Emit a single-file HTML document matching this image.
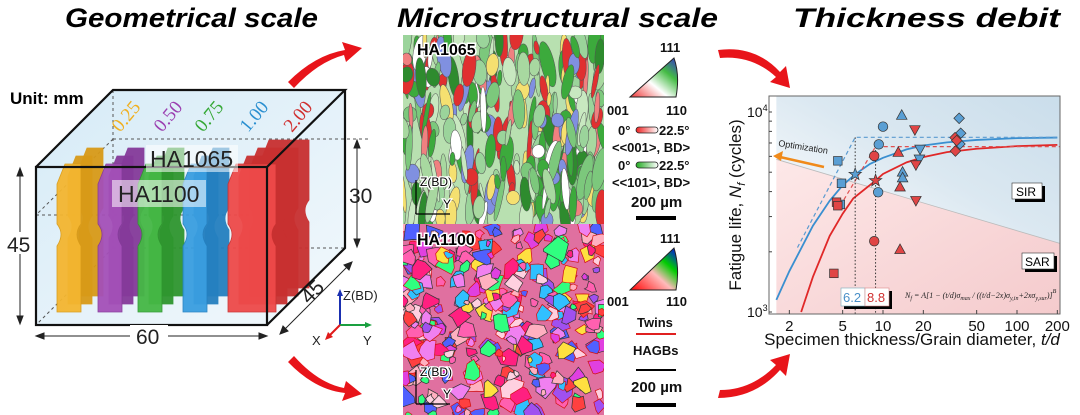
<!DOCTYPE html>
<html><head><meta charset="utf-8"><style>
body{margin:0;background:#fff;}
svg{display:block;font-family:"Liberation Sans",Arial,sans-serif;}
</style></head><body>
<svg id="fig" width="1080" height="415" viewBox="0 0 1080 415">
<defs>
<linearGradient id="boxg" x1="0" y1="0" x2="1" y2="1"><stop offset="0" stop-color="#d6ebf7"/><stop offset="1" stop-color="#f2f8fc"/></linearGradient>
<linearGradient id="blueBg" x1="0" y1="1" x2="1" y2="0"><stop offset="0" stop-color="#ffffff"/><stop offset="0.5" stop-color="#dbe8f1"/><stop offset="1" stop-color="#c8dcea"/></linearGradient>
<linearGradient id="pinkBg" x1="0" y1="0" x2="1" y2="1"><stop offset="0" stop-color="#fde8e8"/><stop offset="1" stop-color="#f4c9cb"/></linearGradient>
<linearGradient id="ipf1" x1="0" y1="1" x2="1" y2="0"><stop offset="0" stop-color="#e33"/><stop offset="0.4" stop-color="#fff"/><stop offset="0.7" stop-color="#4b4"/><stop offset="1" stop-color="#33c"/></linearGradient>
<linearGradient id="ipf2" x1="0" y1="1" x2="1" y2="0"><stop offset="0" stop-color="#f00"/><stop offset="0.45" stop-color="#fbb"/><stop offset="0.7" stop-color="#0c0"/><stop offset="1" stop-color="#00f"/></linearGradient>
<linearGradient id="redbar"><stop offset="0" stop-color="#e22"/><stop offset="1" stop-color="#fff"/></linearGradient>
<linearGradient id="grnbar"><stop offset="0" stop-color="#2a2"/><stop offset="1" stop-color="#fff"/></linearGradient>
<clipPath id="clipTop"><rect x="403" y="35" width="201" height="189"/></clipPath>
<clipPath id="clipBot"><rect x="403" y="224" width="201" height="191"/></clipPath>
<clipPath id="plotClip"><rect x="769" y="96" width="291" height="218"/></clipPath>
</defs>

<!-- Titles -->
<g font-weight="bold" font-style="italic" font-size="27" fill="#000">
<text x="65" y="27" textLength="253" lengthAdjust="spacingAndGlyphs">Geometrical scale</text>
<text x="397" y="27" textLength="321" lengthAdjust="spacingAndGlyphs">Microstructural scale</text>
<text x="793" y="27" textLength="267" lengthAdjust="spacingAndGlyphs">Thickness debit</text>
</g>

<!-- Red curved arrows -->
<g fill="#e8141a">
<path d="M288,82 Q315,55 345,50 L342,42 L362,48 L346,62 L344,55 Q318,62 294,88 Z"/>
<path d="M288,362 Q315,390 345,393 L342,401 L362,394 L346,381 L344,388 Q318,383 294,356 Z"/>
<path d="M718,50 Q755,45 780,72 L786,66 L790,88 L770,82 L776,77 Q752,55 720,58 Z"/>
<path d="M718,398 Q755,398 780,370 L786,376 L790,354 L770,360 L776,365 Q752,390 720,390 Z"/>
</g>

<!-- Left panel: box -->
<g>
<polygon points="36,167 113,90 345,90 345,248 267,325 36,325" fill="url(#boxg)"/>
<g stroke="#555" stroke-dasharray="3,3" fill="none" stroke-width="1">
<line x1="113" y1="90" x2="113" y2="248"/><line x1="113" y1="248" x2="345" y2="248"/><line x1="113" y1="248" x2="36" y2="325"/>
<line x1="113" y1="139" x2="370" y2="139"/><line x1="36" y1="215" x2="267" y2="215"/><line x1="113" y1="139" x2="36" y2="215"/>
</g>
<g id="specimens"></g>
<g fill="none" stroke="#111" stroke-width="2.2">
<rect x="36" y="167" width="231" height="158"/>
<polyline points="36,167 113,90 345,90 267,167"/>
<polyline points="345,90 345,248 267,325"/>
</g>
<rect x="146" y="145" width="92" height="27" fill="#fff" opacity="0.55"/>
<rect x="112" y="180" width="94" height="27" fill="#fff" opacity="0.55"/>
<text x="150" y="167" font-size="23" fill="#222">HA1065</text>
<text x="118" y="202" font-size="23" fill="#222">HA1100</text>
<text x="10" y="104" font-size="17" font-weight="bold">Unit: mm</text>
<g font-family="Liberation Serif,serif" font-size="19">
<text transform="translate(120,133) rotate(-50)" fill="#f0b020">0.25</text>
<text transform="translate(162,133) rotate(-50)" fill="#9b3fb0">0.50</text>
<text transform="translate(203,133) rotate(-50)" fill="#36a836">0.75</text>
<text transform="translate(248,133) rotate(-50)" fill="#2a8fd0">1.00</text>
<text transform="translate(292,133) rotate(-50)" fill="#d03030">2.00</text>
</g>
<g stroke="#222" stroke-width="1" fill="#222">
<line x1="20" y1="170" x2="20" y2="322"/><path d="M20,168 l-3,8 h6z M20,324 l-3,-8 h6z"/>
<line x1="357" y1="142" x2="357" y2="245"/><path d="M357,140 l-3,8 h6z M357,247 l-3,-8 h6z"/>
<line x1="38" y1="336" x2="265" y2="336"/><path d="M36,336 l8,-3 v6z M267,336 l-8,-3 v6z"/>
<line x1="282" y1="332" x2="350" y2="264"/><path d="M280,334 l3,-8 l5,5z M352,262 l-3,8 l-5,-5z"/>
</g>
<rect x="130" y="325" width="38" height="20" fill="#fff"/>
<rect x="8" y="232" width="26" height="22" fill="#fff"/>
<g font-size="21" fill="#222">
<text x="7" y="252">45</text><text x="349" y="203">30</text><text x="136" y="344">60</text>
<text transform="translate(309,305) rotate(-45)">45</text>
</g>
<g>
<line x1="340" y1="325" x2="340" y2="292" stroke="#1a2fb0" stroke-width="2"/><path d="M340,289 l-3,7 h6z" fill="#1a2fb0"/>
<line x1="340" y1="325" x2="368" y2="325" stroke="#1aa040" stroke-width="2"/><path d="M372,325 l-7,-3 v6z" fill="#1aa040"/>
<line x1="340" y1="325" x2="328" y2="337" stroke="#e01a1a" stroke-width="2"/><path d="M325,340 l3,-8 l5,5z" fill="#e01a1a"/>
<g font-size="13" fill="#222"><text x="343" y="300">Z(BD)</text><text x="312" y="345">X</text><text x="363" y="345">Y</text></g>
</g>
</g>

<!-- Middle: micrographs -->
<g clip-path="url(#clipTop)">
<rect x="403" y="35" width="201" height="189" fill="#b8e0b0"/>
<g id="grainsTop"></g>
</g>
<g clip-path="url(#clipBot)">
<rect x="403" y="224" width="201" height="191" fill="#e070a0"/>
<g id="grainsBot"></g>
</g>
<g font-size="16" font-weight="bold" fill="#000" stroke="#fff" stroke-width="3" paint-order="stroke">
<text x="417" y="55">HA1065</text>
<text x="417" y="245">HA1100</text>
</g>
<g stroke="#000" stroke-width="1.2"><line x1="416" y1="214" x2="416" y2="180"/><line x1="416" y1="214" x2="450" y2="214"/>
<line x1="416" y1="404" x2="416" y2="370"/><line x1="416" y1="404" x2="450" y2="404"/></g>
<g font-size="12" fill="#000" stroke="#fff" stroke-width="2.5" paint-order="stroke">
<text x="420" y="186">Z(BD)</text><text x="443" y="208">Y</text>
<text x="420" y="376">Z(BD)</text><text x="443" y="398">Y</text>
</g>

<!-- Middle legends -->
<g font-size="13" font-weight="bold" fill="#111">
<path d="M630,97 L676,97 Q680,75 674,58 Z" fill="url(#ipf1)" stroke="#222"/>
<text x="660" y="52">111</text><text x="607" y="115">001</text><text x="666" y="115">110</text>
<text x="618" y="135">0°</text><rect x="636" y="127" width="22" height="6" rx="3" fill="url(#redbar)" stroke="#222" stroke-width="0.8"/><text x="659" y="135">22.5°</text>
<text x="612" y="152">&lt;&lt;001&gt;, BD&gt;</text>
<text x="618" y="170">0°</text><rect x="636" y="162" width="22" height="6" rx="3" fill="url(#grnbar)" stroke="#222" stroke-width="0.8"/><text x="659" y="170">22.5°</text>
<text x="612" y="187">&lt;&lt;101&gt;, BD&gt;</text>
<text x="631" y="207" font-size="15">200 µm</text><rect x="636" y="216" width="40" height="4" fill="#000"/>
<path d="M630,290 L676,290 Q680,268 674,248 Z" fill="url(#ipf2)" stroke="#222"/>
<text x="660" y="243">111</text><text x="607" y="306">001</text><text x="666" y="306">110</text>
<text x="637" y="327">Twins</text><rect x="636" y="333" width="40" height="2" fill="#e02020"/>
<text x="633" y="355">HAGBs</text><rect x="636" y="369" width="40" height="2" fill="#000"/>
<text x="631" y="392" font-size="15">200 µm</text><rect x="636" y="403" width="40" height="4" fill="#000"/>
</g>

<!-- Right chart -->
<g id="chart">
<g clip-path="url(#plotClip)" id="bg"></g>
<g clip-path="url(#plotClip)" id="lines"></g>
<g id="marks"></g>
<rect x="769" y="96" width="291" height="218" fill="none" stroke="#666" stroke-width="1"/>
<g id="ticks"></g>
<text transform="translate(741,205) rotate(-90)" font-size="17" text-anchor="middle" fill="#111">Fatigue life, <tspan font-style="italic">N</tspan><tspan font-style="italic" font-size="11" dy="4">f</tspan><tspan dy="-4"> (cycles)</tspan></text>
<text x="912" y="345" font-size="17" text-anchor="middle" fill="#111">Specimen thickness/Grain diameter, <tspan font-style="italic">t/d</tspan></text>
<g>
<line x1="824" y1="167" x2="780" y2="157" stroke="#f08a1a" stroke-width="2.5"/><path d="M773,156 l10,-5 l-2,10z" fill="#f08a1a"/>
<text transform="translate(778,146) rotate(9)" font-size="9" fill="#222">Optimization</text>
</g>
<g font-size="12">
<rect x="1015" y="186" width="30" height="16" fill="#000"/><rect x="1012" y="183" width="30" height="16" fill="#fff" stroke="#333" stroke-width="0.6"/><text x="1016" y="196">SIR</text>
<rect x="1025" y="256" width="32" height="16" fill="#000"/><rect x="1022" y="253" width="32" height="16" fill="#fff" stroke="#333" stroke-width="0.6"/><text x="1025" y="266">SAR</text>
</g>
<g font-size="13">
<rect x="844" y="291" width="24" height="18" fill="#000"/><rect x="841" y="288" width="24" height="18" fill="#fff" stroke="#7ab" stroke-width="0.6"/><text x="843" y="302" fill="#4a90c8">6.2</text>
<rect x="868" y="291" width="24" height="18" fill="#000"/><rect x="865" y="288" width="24" height="18" fill="#fff" stroke="#d88" stroke-width="0.6"/><text x="867" y="302" fill="#d03030">8.8</text>
</g>
<text x="905" y="298" font-size="8" font-family="Liberation Serif,serif" font-style="italic" fill="#222">N<tspan font-size="6" dy="2">f</tspan><tspan dy="-2"> = A[1 − (t/d)σ</tspan><tspan font-size="6" dy="2">max</tspan><tspan dy="-2"> / ((t/d−2x)σ</tspan><tspan font-size="6" dy="2">y,in</tspan><tspan dy="-2">+2xσ</tspan><tspan font-size="6" dy="2">y,sur</tspan><tspan dy="-2">)]</tspan><tspan font-size="6" dy="-5">B</tspan></text>
</g>
</svg>
<script>
// ---- Chart data ----
const xTicks = [2, 5, 10, 20, 50, 100, 200];
const blueSqT = [4.6, 4.9, 4.8];        const blueSqN = [5700, 4400, 3450];
const redSqT = [4.5, 4.3, 4.6];         const redSqN = [3540, 1560, 3400];
const blueCirT = [10, 9.3, 9.2];        const blueCirN = [8450, 6890, 3970];
const redCirT = [8.6, 8.6];             const redCirN = [6030, 2260];
const blueTriT = [13.8, 14, 14];        const blueTriN = [9660, 5020, 4700];
const redTriT = [13, 13.4, 13.4];       const redTriN = [6300, 4230, 2060];
const blueTdT = [18.9, 18.7];           const blueTdN = [6500, 5800];
const redTdT = [17.3, 17.6, 17.6];      const redTdN = [8130, 5430, 3600];
const blueDiaT = [37, 38, 37.5];        const blueDiaN = [9300, 7830, 6920];
const redDiaT = [34.5, 35.5, 34.7];     const redDiaN = [7440, 7200, 6380];
const starT = [6.2, 8.8];               const starN = [4880, 4540];
const blueFitT = [1.6, 2, 3, 4, 5, 6.2, 8, 10, 15, 20, 30, 50, 100, 200];
const blueFitN = [1150, 1600, 2700, 3600, 4300, 4880, 5500, 5900, 6500, 6800, 7050, 7250, 7400, 7450];
const redFitT = [2.45, 3, 4, 5, 6, 8.8, 10, 15, 20, 30, 50, 100, 200];
const redFitN = [1000, 1500, 2400, 3100, 3700, 4540, 4900, 5600, 5950, 6300, 6550, 6750, 6850];
const blueDashT = [2.3, 6.2, 210];      const blueDashN = [2100, 7470, 7470];
const redDashT = [4.8, 8.8, 210];       const redDashN = [3400, 6710, 6710];
const boundaryT = [1.6, 210];           const boundaryN = [5800, 2200];

const NS = 'http://www.w3.org/2000/svg';
const X = t => 883 + 134 * Math.log10(t / 10);
const Y = n => 312 - 200 * Math.log10(n / 1000);
function mk(tag, attrs, parent) { const e = document.createElementNS(NS, tag); for (const k in attrs) e.setAttribute(k, attrs[k]); parent.appendChild(e); return e; }
const bg = document.getElementById('bg'), lines = document.getElementById('lines'), marks = document.getElementById('marks'), ticks = document.getElementById('ticks');

const bx0 = X(boundaryT[0]), by0 = Y(boundaryN[0]), bx1 = X(boundaryT[1]), by1 = Y(boundaryN[1]);
let r1 = mk('polygon', {points: `${bx0},80 ${bx1},80 ${bx1},${by1} ${bx0},${by0}`, fill: 'url(#blueBg)'}, bg);


let r2 = mk('polygon', {points: `${bx0},${by0} ${bx1},${by1} ${bx1},330 ${bx0},330`, fill: 'url(#pinkBg)'}, bg);


mk('line', {x1: bx0, y1: by0, x2: bx1, y2: by1, stroke: '#bbb', 'stroke-width': 0.8}, bg);

function poly(ts, ns, attrs, name) {
  const p = mk('polyline', Object.assign({points: ts.map((t, i) => X(t) + ',' + Y(ns[i])).join(' '), fill: 'none'}, attrs), lines);
  
  
}
poly(blueFitT, blueFitN, {stroke: '#3a8fd0', 'stroke-width': 1.8}, 'blue-fit-curve');
poly(redFitT, redFitN, {stroke: '#e02828', 'stroke-width': 1.8}, 'red-fit-curve');
poly(blueDashT, blueDashN, {stroke: '#5a9ad0', 'stroke-width': 1.2, 'stroke-dasharray': '4,3'}, 'blue-bilinear-line');
poly(redDashT, redDashN, {stroke: '#e05050', 'stroke-width': 1.2, 'stroke-dasharray': '4,3'}, 'red-bilinear-line');
for (let i = 0; i < 2; i++) {
  const topN = i === 0 ? blueDashN[1] : redDashN[1];
  const d = mk('line', {x1: X(starT[i]), x2: X(starT[i]), y1: Y(topN), y2: 314, stroke: '#333', 'stroke-width': 1, 'stroke-dasharray': '1.5,2'}, lines);
  
  
}

const BLUE = '#5a9fd4', RED = '#e04545';
function shape(kind, x, y, fill) {
  const s = 4.3;
  let p;
  if (kind === 'sq') p = mk('rect', {x: x - s, y: y - s, width: 2 * s, height: 2 * s}, marks);
  else if (kind === 'ci') p = mk('circle', {cx: x, cy: y, r: s + 0.5}, marks);
  else if (kind === 'tu') p = mk('polygon', {points: `${x},${y - s - 1} ${x - s - 1},${y + s} ${x + s + 1},${y + s}`}, marks);
  else if (kind === 'td') p = mk('polygon', {points: `${x},${y + s + 1} ${x - s - 1},${y - s} ${x + s + 1},${y - s}`}, marks);
  else if (kind === 'di') p = mk('polygon', {points: `${x},${y - s - 1} ${x + s + 1},${y} ${x},${y + s + 1} ${x - s - 1},${y}`}, marks);
  else if (kind === 'st') { let pts = []; for (let k = 0; k < 10; k++) { const r = k % 2 ? 2.6 : 6.5, a = -Math.PI / 2 + k * Math.PI / 5; pts.push((x + r * Math.cos(a)) + ',' + (y + r * Math.sin(a))); } p = mk('polygon', {points: pts.join(' ')}, marks); }
  p.setAttribute('fill', fill); p.setAttribute('stroke', '#333'); p.setAttribute('stroke-width', 0.7);
  return p;
}
function series(ts, ns, kind, color, name) {
  ts.forEach((t, i) => {
    const p = shape(kind, X(t), Y(ns[i]), color);
    
    
  });
}
series(blueSqT, blueSqN, 'sq', BLUE, 'blue-square-point');
series(redSqT, redSqN, 'sq', RED, 'red-square-point');
series(blueCirT, blueCirN, 'ci', BLUE, 'blue-circle-point');
series(redCirT, redCirN, 'ci', RED, 'red-circle-point');
series(blueTriT, blueTriN, 'tu', BLUE, 'blue-triangle-point');
series(redTriT, redTriN, 'tu', RED, 'red-triangle-point');
series(blueTdT, blueTdN, 'td', BLUE, 'blue-down-triangle-point');
series(redTdT, redTdN, 'td', RED, 'red-down-triangle-point');
series(blueDiaT, blueDiaN, 'di', BLUE, 'blue-diamond-point');
series(redDiaT, redDiaN, 'di', RED, 'red-diamond-point');
series([starT[0]], [starN[0]], 'st', BLUE, 'blue-threshold-star');
series([starT[1]], [starN[1]], 'st', RED, 'red-threshold-star');

xTicks.forEach(t => {
  mk('line', {x1: X(t), x2: X(t), y1: 314, y2: 310, stroke: '#444'}, ticks);
  const tx = mk('text', {x: X(t), y: 331, 'font-size': 15, 'text-anchor': 'middle', fill: '#111'}, ticks);
  tx.textContent = t;
  
  
});
for (let d = 1; d <= 10; d++) { mk('line', {x1: 769, x2: 772, y1: Y(1000 * d), y2: Y(1000 * d), stroke: '#444'}, ticks); }
[[1000, '3'], [10000, '4']].forEach(([n, e]) => {
  const tx = mk('text', {x: 747, y: Y(n) + 5, 'font-size': 14, fill: '#111'}, ticks);
  tx.innerHTML = '10<tspan font-size="9" dy="-6">' + e + '</tspan>';
  
  
});

// ---- decorative: specimens ----
const spec = document.getElementById('specimens');
const groups = [[57, '#f4b630', '#d89a18'], [98, '#a450b8', '#853a9a'], [138, '#45b845', '#2f962f'], [183, '#3a9ee0', '#2580c0'], [228, '#ee4a4a', '#c83030']];
groups.forEach((g, gi) => {
  const n = gi === 4 ? 4 : 3;
  for (let k = n - 1; k >= 0; k--) {
    const x = g[0] + k * 11, y = 150 - k * 8 + 14, w = gi === 4 ? 48 : 24, h = 148;
    const d = `M${x},${y + 20} L${x + 8},${y} L${x + w},${y} L${x + w},${y + 60} q-8,10 0,22 L${x + w},${y + h} L${x},${y + h} L${x},${y + 82} q8,-12 0,-22 Z`;
    const p = mk('path', {d, fill: k === 0 ? g[1] : g[2], stroke: g[2], 'stroke-width': 0.8, opacity: 0.95}, spec);
    
    
  }
});

// ---- decorative: grain maps ----
let seed = 7; const rnd = () => { seed = (seed * 16807) % 2147483647; return seed / 2147483647; };
const gt = document.getElementById('grainsTop');
const topCols = ['#3caa3c', '#7cc87c', '#a8d8a0', '#ffffff', '#e03030', '#f08080', '#2e8b2e', '#9bd49b', '#c8e8c0', '#f5e070', '#8090e0'];
for (let i = 0; i < 320; i++) {
  const x = 403 + rnd() * 201, y = 35 + rnd() * 189, c = topCols[Math.floor(Math.pow(rnd(), 1.2) * topCols.length)];
  mk('ellipse', {cx: x, cy: y, rx: 2 + rnd() * 5, ry: 6 + rnd() * 18, transform: `rotate(${-15 + rnd() * 30} ${x} ${y})`, fill: c, stroke: '#555', 'stroke-width': 0.5}, gt);
}
const gb = document.getElementById('grainsBot');
const botCols = ['#ff2080', '#ff60b0', '#a050f0', '#5060ff', '#30c0ff', '#ffb0c0', '#ff4040', '#f080f0', '#30ff80', '#ffe040', '#ffd0e0', '#e040e0'];
for (let i = 0; i < 320; i++) {
  const x = 403 + rnd() * 201, y = 224 + rnd() * 191, c = botCols[Math.floor(rnd() * botCols.length)], r = 3 + rnd() * 9;
  let pts = []; for (let k = 0; k < 6; k++) { const a = k * Math.PI / 3 + rnd(); const rr = r * (0.6 + rnd() * 0.6); pts.push((x + rr * Math.cos(a)) + ',' + (y + rr * Math.sin(a))); }
  mk('polygon', {points: pts.join(' '), fill: c, stroke: rnd() < 0.5 ? '#d01010' : '#333', 'stroke-width': 0.7}, gb);
}
</script>
</body></html>
